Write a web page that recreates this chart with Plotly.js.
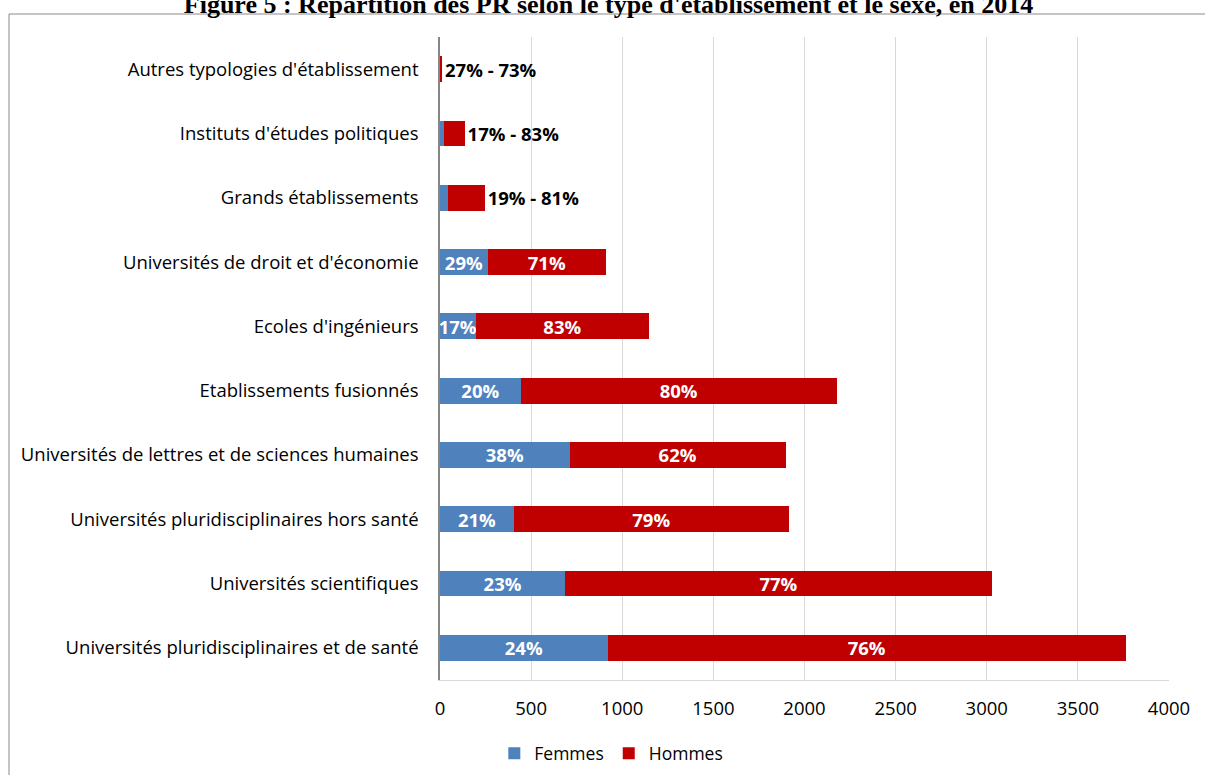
<!DOCTYPE html>
<html>
<head>
<meta charset="utf-8">
<script src="https://cdn.plot.ly/plotly-3.0.1.min.js"></script>
<style>
  html, body { margin: 0; padding: 0; background: #fff; }
  #chart { width: 1205px; height: 775px; }
</style>
</head>
<body>
<div id="chart"></div>
<script>
// Categories, bottom to top
const categories = [
  "Universités pluridisciplinaires et de santé",
  "Universités scientifiques",
  "Universités pluridisciplinaires hors santé",
  "Universités de lettres et de sciences humaines",
  "Etablissements fusionnés",
  "Ecoles d'ingénieurs",
  "Universités de droit et d'économie",
  "Grands établissements",
  "Instituts d'études politiques",
  "Autres typologies d'établissement"
];
const femmes = [920, 688, 406, 711, 443, 195, 262, 46, 23, 3];
const hommes = [2843, 2339, 1507, 1186, 1734, 953, 648, 199, 112, 8];
const femmesLabels = ["24%", "23%", "21%", "38%", "20%", "17%", "29%", "", "", ""];
const hommesLabels = ["76%", "77%", "79%", "62%", "80%", "83%", "71%", "19% - 81%", "17% - 83%", "27% - 73%"];
const hommesLabelPos = ["inside", "inside", "inside", "inside", "inside", "inside", "inside", "outside", "outside", "outside"];
const hommesLabelColor = ["#ffffff", "#ffffff", "#ffffff", "#ffffff", "#ffffff", "#ffffff", "#ffffff", "#000000", "#000000", "#000000"];
const xTicks = [0, 500, 1000, 1500, 2000, 2500, 3000, 3500, 4000];

const FONT = "'Open Sans', Carlito, Lato, sans-serif";

const traces = [
  {
    type: "bar", orientation: "h", name: "Femmes",
    y: categories, x: femmes,
    marker: { color: "#4F81BD" },
    text: femmesLabels, textposition: "inside", insidetextanchor: "middle",
    textfont: { family: FONT, size: 18.5, color: "#ffffff", weight: "bold" },
    constraintext: "none", hoverinfo: "x+y+name"
  },
  {
    type: "bar", orientation: "h", name: "Hommes",
    y: categories, x: hommes,
    marker: { color: "#C00000" },
    text: hommesLabels, textposition: hommesLabelPos, insidetextanchor: "middle",
    textfont: { family: FONT, size: 18.5, color: hommesLabelColor, weight: "bold" },
    constraintext: "none", cliponaxis: false, hoverinfo: "x+y+name"
  }
];

const layout = {
  width: 1205, height: 775,
  paper_bgcolor: "#ffffff", plot_bgcolor: "#ffffff",
  margin: { l: 440, r: 36, t: 37, b: 95, autoexpand: false },
  barmode: "stack", bargap: 0.6,
  font: { family: FONT, size: 18.5, color: "#000000" },
  title: {
    text: "Figure 5 : Répartition des PR selon le type d'établissement et le sexe, en 2014",
    font: { family: "'Liberation Serif', 'Times New Roman', serif", size: 26, color: "#000000", weight: "bold" },
    x: 0.505, xref: "container", xanchor: "center",
    y: 0.9955, yref: "container", yanchor: "middle"
  },
  xaxis: {
    range: [0, 4000], tickvals: xTicks, ticktext: xTicks.map(String),
    showgrid: true, gridcolor: "#d9d9d9", gridwidth: 1,
    zeroline: false, showline: true, linecolor: "#d9d9d9", linewidth: 1,
    ticks: "", ticklabelstandoff: 12, automargin: false,
    tickfont: { family: FONT, size: 18.5, color: "#000000" },
    fixedrange: true
  },
  yaxis: {
    type: "category", categoryorder: "array", categoryarray: categories,
    showgrid: false, zeroline: false, showline: true, linecolor: "#868686", linewidth: 1.5,
    ticks: "", ticklabelstandoff: 16, automargin: false,
    tickfont: { family: FONT, size: 18.5, color: "#000000" },
    fixedrange: true
  },
  legend: {
    orientation: "h", x: 0.235, xanchor: "center",
    yref: "container", y: 0.028, yanchor: "middle",
    font: { family: FONT, size: 17.5, color: "#000000" },
    traceorder: "normal", itemwidth: 30
  },
  shapes: [
    { type: "rect", xref: "paper", yref: "paper",
      x0: (9 - 440) / 729, x1: (1212 - 440) / 729,
      y0: (680 - 790) / 643, y1: (680 - 14) / 643,
      line: { color: "#898989", width: 1 }, fillcolor: "rgba(0,0,0,0)", layer: "below" }
  ],
  showlegend: true
};

Plotly.newPlot("chart", traces, layout, { displayModeBar: false, responsive: false });
</script>
</body>
</html>
